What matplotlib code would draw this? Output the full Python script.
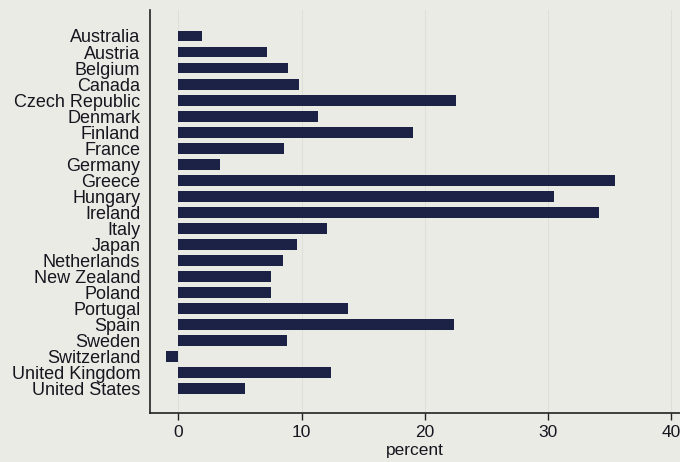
import matplotlib
matplotlib.use("Agg")
import matplotlib.pyplot as plt

countries = ["Australia", "Austria", "Belgium", "Canada", "Czech Republic", "Denmark",
             "Finland", "France", "Germany", "Greece", "Hungary", "Ireland", "Italy",
             "Japan", "Netherlands", "New Zealand", "Poland", "Portugal", "Spain",
             "Sweden", "Switzerland", "United Kingdom", "United States"]
percent = [1.9, 7.2, 8.9, 9.8, 22.5, 11.3, 19.0, 8.6, 3.4, 35.4, 30.5, 34.1, 12.1,
           9.6, 8.5, 7.5, 7.5, 13.8, 22.4, 8.8, -1.0, 12.4, 5.4]
xticks = [0, 10, 20, 30, 40]

plt.rcParams['font.family'] = ['Liberation Sans', 'DejaVu Sans']
bg = "#ebebe6"
fig = plt.figure(figsize=(6.8, 4.62), dpi=100, facecolor=bg)
ax = fig.add_axes([150/680, 1 - 412.7/462, 530/680, (412.7 - 10)/462])
ax.set_facecolor(bg)

ypos = list(range(len(countries)))
ax.barh(ypos, percent, height=0.68, color="#1c2146", zorder=3)
ax.set_yticks(ypos)
ax.set_yticklabels(countries, fontsize=13, color="#16161f")
ax.tick_params(axis='y', length=0, pad=7)
ax.set_ylim(22 + 1.5, -1.62)

ax.set_xlim(-2.3, 40.7)
ax.set_xticks(xticks)
ax.set_xticklabels([str(t) for t in xticks], fontsize=12.5, color="#16161f")
ax.tick_params(axis='x', length=5, width=1, color="#222222", pad=4)
ax.set_xlabel("percent", fontsize=12.5, color="#16161f", labelpad=2)

ax.grid(axis='x', color="#deded8", linewidth=0.7, zorder=0)
for s in ["top", "right"]:
    ax.spines[s].set_visible(False)
for s in ["left", "bottom"]:
    ax.spines[s].set_color("#222222")
    ax.spines[s].set_linewidth(1.2)

fig.savefig("out.png", dpi=100, facecolor=bg)
